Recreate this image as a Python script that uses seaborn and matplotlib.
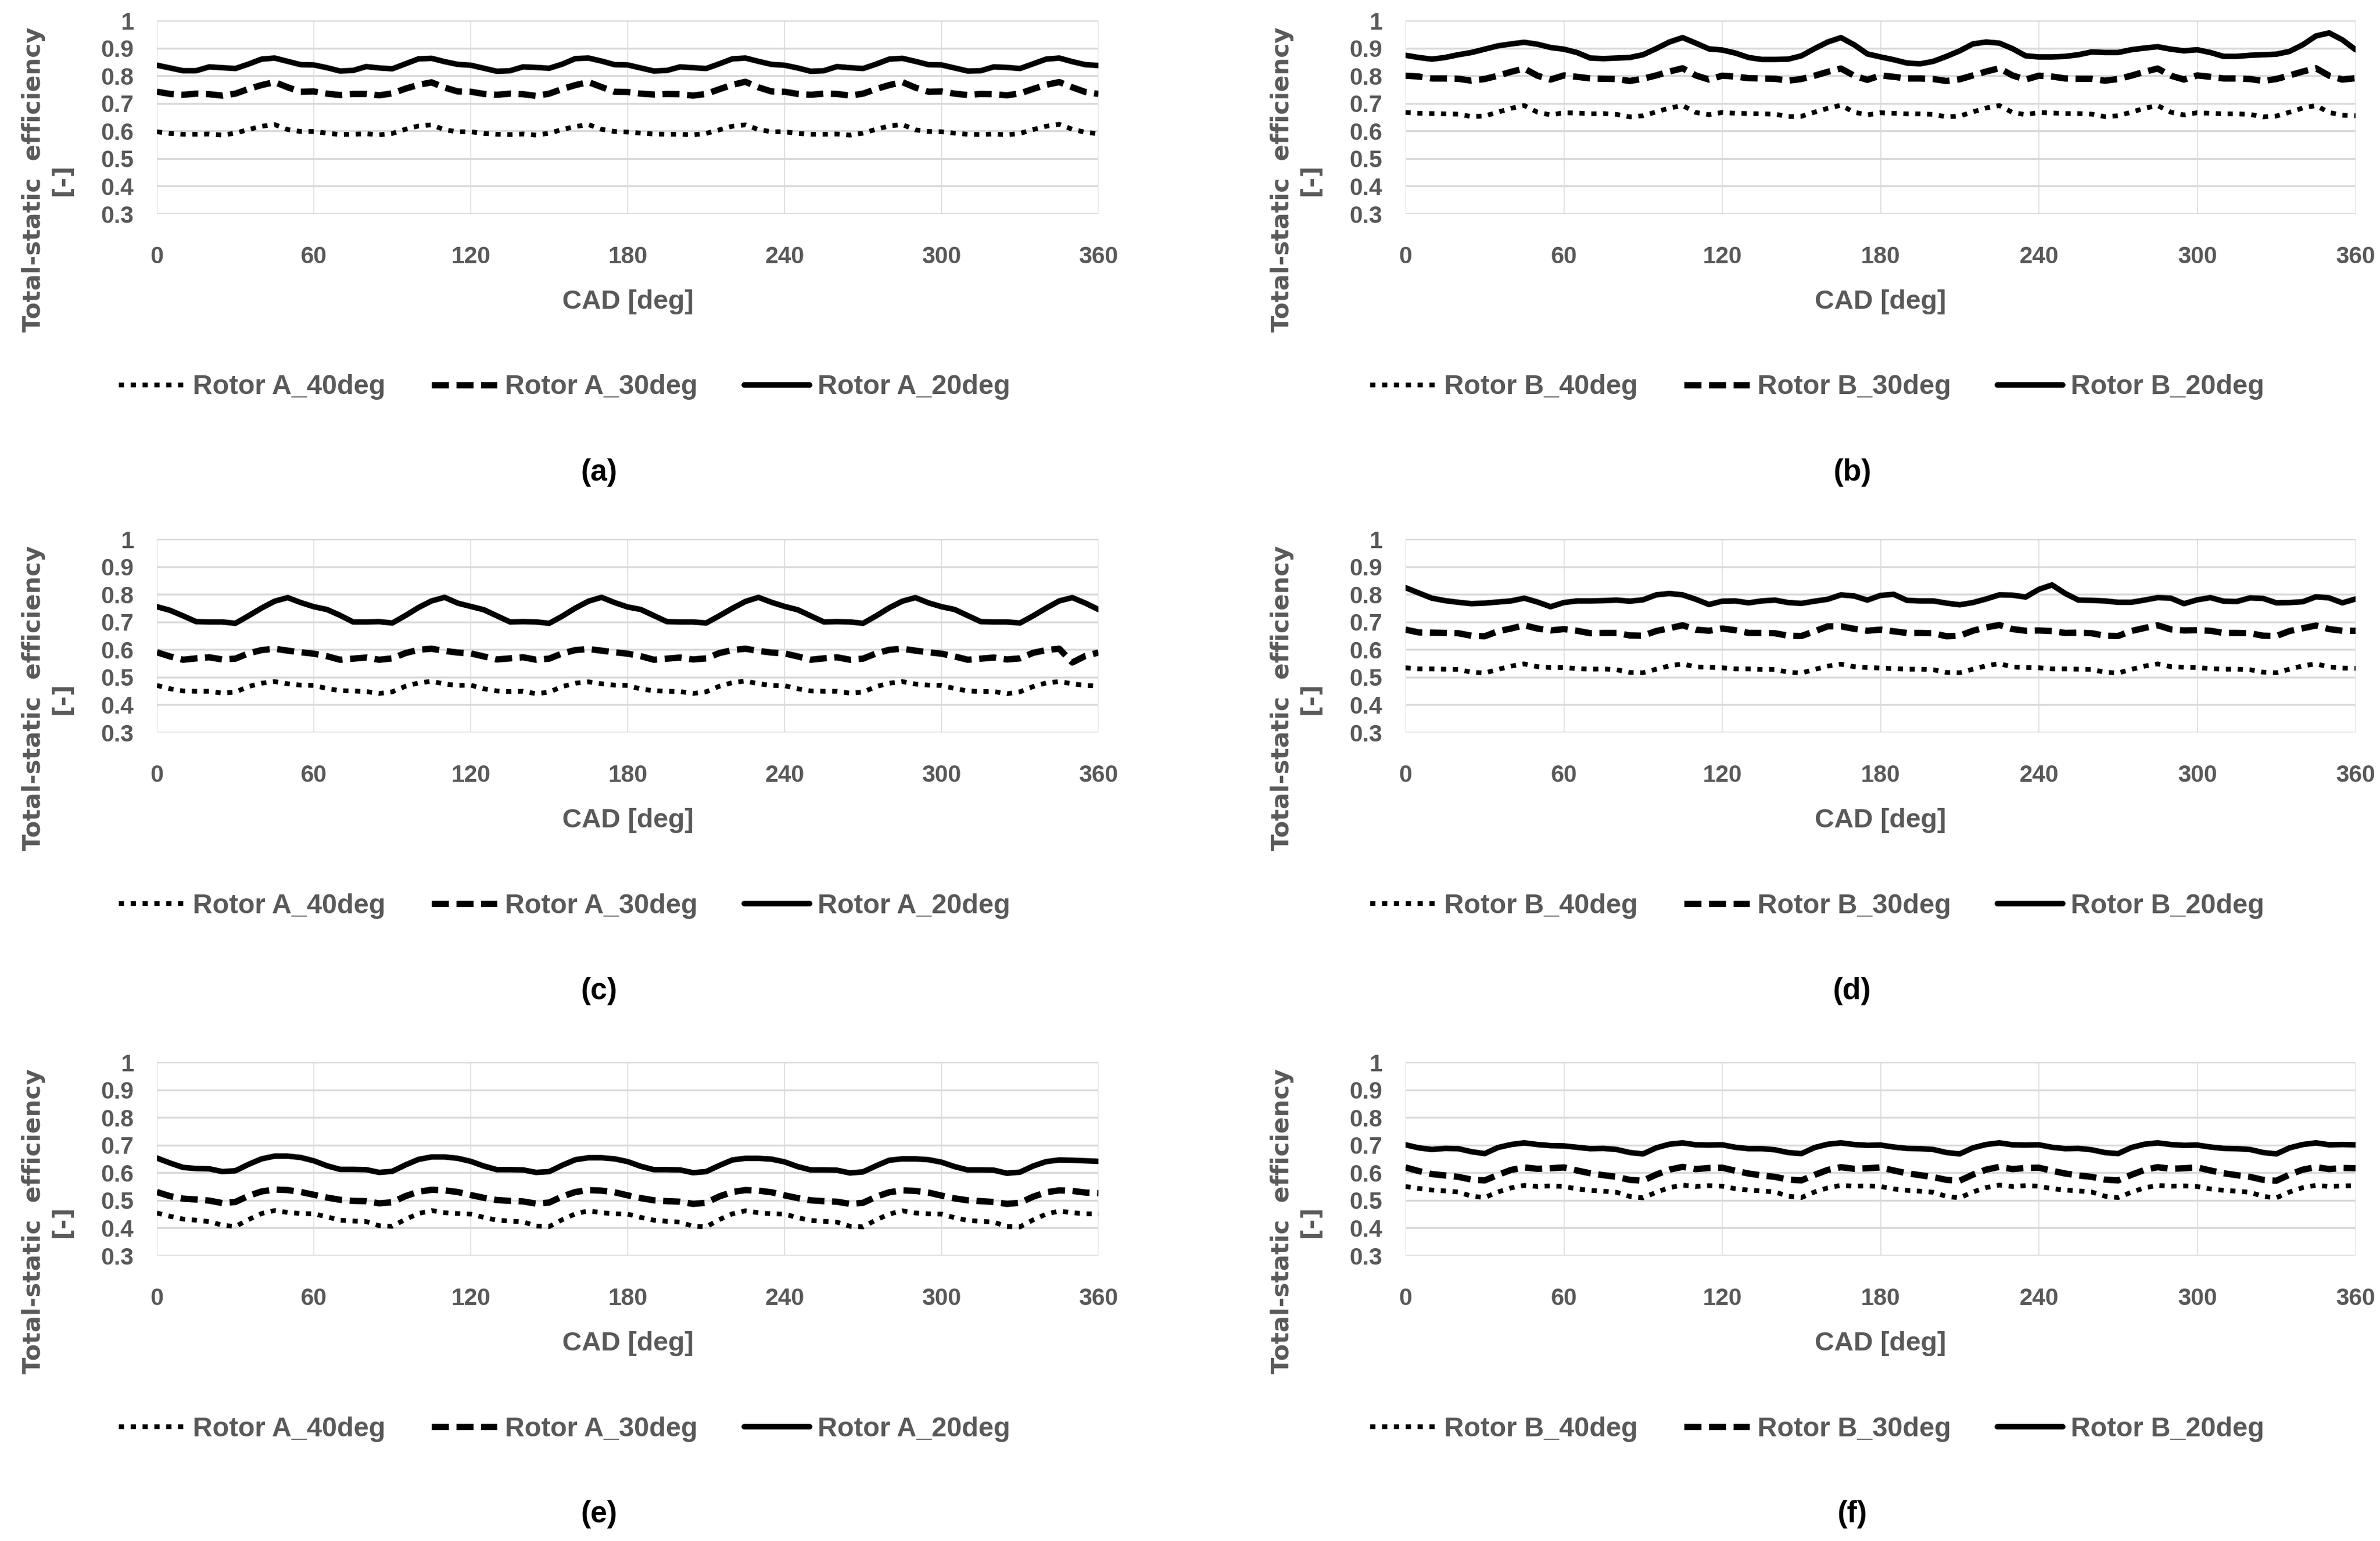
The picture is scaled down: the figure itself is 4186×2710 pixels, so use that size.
import pandas as pd
import seaborn as sns
import matplotlib.pyplot as plt

# -------------------------------
# Data (CAD every 5 deg)
# -------------------------------
cad = list(range(0, 361, 5))

# (a) Rotor A, first operating point
a_40 = [.597, .591, .588, .588, .589, .585, .592, .605, .617, .623, .605, .598,
        .598, .592, .587, .588, .590, .586, .591, .606, .618, .622, .604, .597,
        .597, .591, .588, .587, .589, .585, .592, .605, .616, .623, .606, .598,
        .596, .592, .589, .588, .588, .586, .591, .604, .617, .622, .605, .597,
        .597, .591, .588, .588, .589, .585, .592, .606, .618, .623, .604, .598,
        .597, .592, .588, .587, .589, .586, .591, .605, .617, .624, .606, .595,
        .590]
a_30 = [.742, .734, .731, .735, .733, .728, .735, .752, .766, .777, .758, .742,
        .743, .735, .730, .734, .734, .729, .736, .753, .767, .776, .757, .743,
        .742, .734, .731, .735, .733, .727, .735, .752, .766, .777, .759, .742,
        .741, .735, .732, .734, .733, .728, .734, .751, .767, .778, .758, .743,
        .742, .734, .731, .735, .734, .728, .735, .752, .766, .777, .757, .742,
        .743, .735, .730, .734, .733, .729, .736, .752, .767, .777, .758, .741,
        .734]
a_20 = [.838, .828, .818, .818, .832, .829, .826, .842, .860, .864, .852, .840,
        .839, .829, .817, .819, .833, .828, .825, .843, .861, .863, .851, .841,
        .838, .827, .816, .818, .832, .830, .827, .842, .862, .864, .853, .840,
        .839, .828, .817, .819, .832, .829, .826, .843, .861, .864, .852, .841,
        .838, .828, .816, .818, .833, .829, .826, .842, .860, .863, .852, .840,
        .839, .828, .817, .818, .832, .830, .826, .843, .860, .864, .851, .840,
        .837]

# (b) Rotor B, first operating point
b_40 = [.667, .664, .663, .662, .661, .652, .654, .668, .682, .692, .668, .658,
        .666, .665, .662, .663, .660, .651, .655, .669, .683, .692, .667, .659,
        .667, .664, .663, .662, .661, .652, .653, .668, .682, .693, .668, .658,
        .666, .664, .662, .662, .660, .651, .654, .669, .683, .692, .667, .659,
        .667, .665, .663, .663, .661, .652, .655, .668, .682, .692, .668, .658,
        .666, .664, .662, .662, .660, .651, .654, .668, .683, .692, .667, .657,
        .655]
b_30 = [.800, .797, .790, .790, .789, .782, .788, .800, .814, .826, .800, .786,
        .801, .796, .790, .789, .788, .781, .789, .801, .815, .827, .801, .786,
        .800, .797, .791, .790, .789, .782, .788, .800, .814, .826, .800, .785,
        .801, .796, .790, .790, .788, .781, .787, .801, .815, .827, .801, .786,
        .800, .797, .790, .789, .789, .782, .788, .800, .814, .826, .800, .786,
        .801, .796, .790, .790, .788, .781, .788, .801, .815, .827, .800, .786,
        .791]
b_20 = [.874, .866, .860, .866, .876, .884, .896, .908, .915, .921, .914, .902,
        .896, .884, .864, .862, .864, .866, .876, .898, .922, .938, .918, .897,
        .893, .882, .866, .859, .859, .860, .872, .898, .922, .938, .912, .879,
        .868, .858, .846, .843, .852, .870, .890, .915, .922, .918, .898, .872,
        .868, .868, .870, .876, .886, .884, .884, .894, .900, .905, .896, .890,
        .894, .884, .870, .870, .874, .876, .878, .888, .912, .944, .955, .930,
        .894]

# (c) Rotor A, second operating point
c_40 = [.470, .458, .450, .449, .449, .442, .446, .466, .478, .484, .476, .471,
        .470, .459, .451, .450, .448, .441, .447, .467, .479, .485, .475, .470,
        .471, .458, .450, .448, .449, .440, .446, .466, .478, .483, .476, .471,
        .470, .457, .451, .449, .448, .441, .447, .467, .480, .486, .476, .470,
        .469, .458, .450, .449, .449, .442, .446, .466, .478, .484, .475, .471,
        .470, .459, .450, .448, .448, .440, .447, .466, .479, .484, .476, .470,
        .468]
c_30 = [.590, .575, .563, .568, .572, .564, .567, .586, .598, .603, .596, .590,
        .585, .576, .563, .567, .571, .563, .568, .587, .599, .603, .595, .589,
        .586, .575, .564, .568, .572, .563, .567, .586, .598, .602, .596, .590,
        .585, .576, .563, .567, .571, .564, .568, .587, .598, .603, .595, .589,
        .586, .575, .563, .568, .572, .563, .567, .586, .599, .603, .596, .590,
        .585, .575, .563, .567, .571, .564, .568, .588, .598, .603, .553, .577,
        .589]
c_20 = [.755, .742, .722, .701, .700, .700, .695, .722, .750, .775, .788, .770,
        .755, .745, .724, .700, .700, .701, .696, .723, .752, .776, .789, .768,
        .756, .744, .722, .700, .701, .700, .695, .721, .750, .775, .789, .770,
        .754, .745, .723, .701, .700, .700, .696, .722, .749, .774, .789, .771,
        .756, .744, .722, .700, .701, .700, .695, .722, .751, .775, .788, .769,
        .755, .745, .723, .701, .700, .700, .696, .722, .750, .776, .788, .768,
        .745]

# (d) Rotor B, second operating point
d_40 = [.534, .530, .530, .529, .528, .518, .515, .528, .540, .548, .538, .535,
        .535, .531, .529, .530, .527, .517, .516, .529, .541, .548, .537, .536,
        .534, .530, .530, .528, .528, .518, .515, .528, .540, .547, .538, .535,
        .533, .531, .529, .529, .527, .517, .516, .529, .541, .549, .537, .535,
        .534, .530, .530, .529, .528, .518, .515, .528, .540, .548, .538, .536,
        .535, .531, .529, .529, .527, .518, .516, .529, .541, .548, .537, .533,
        .532]
d_30 = [.672, .662, .661, .660, .659, .650, .648, .666, .676, .688, .676, .669,
        .674, .668, .659, .660, .660, .651, .650, .667, .677, .688, .672, .668,
        .676, .670, .660, .660, .659, .650, .649, .666, .684, .684, .675, .668,
        .672, .666, .660, .660, .659, .648, .650, .668, .680, .689, .674, .668,
        .669, .667, .660, .661, .659, .650, .649, .667, .678, .688, .673, .669,
        .670, .668, .660, .660, .659, .650, .649, .667, .677, .687, .674, .668,
        .668]
d_20 = [.824, .805, .786, .777, .771, .766, .768, .772, .776, .786, .772, .755,
        .770, .776, .776, .777, .779, .775, .780, .798, .803, .798, .782, .763,
        .775, .776, .769, .776, .779, .770, .767, .775, .782, .798, .794, .779,
        .796, .800, .778, .776, .776, .768, .762, .770, .783, .798, .797, .790,
        .818, .834, .803, .779, .778, .776, .771, .771, .779, .788, .786, .766,
        .780, .788, .775, .774, .787, .785, .769, .770, .773, .791, .787, .769,
        .783]

# (e) Rotor A, third operating point
e_40 = [.454, .442, .432, .428, .423, .410, .405, .430, .452, .463, .456, .452,
        .451, .440, .428, .425, .423, .408, .406, .431, .452, .463, .455, .452,
        .450, .438, .428, .425, .422, .407, .405, .430, .451, .462, .455, .451,
        .450, .438, .428, .424, .421, .406, .404, .430, .451, .462, .455, .451,
        .450, .437, .427, .424, .421, .406, .404, .429, .450, .462, .454, .451,
        .450, .437, .427, .424, .421, .405, .404, .429, .450, .461, .455, .451,
        .451]
e_30 = [.530, .515, .506, .503, .499, .490, .494, .516, .532, .539, .537, .530,
        .520, .510, .502, .498, .497, .489, .493, .515, .531, .538, .536, .530,
        .519, .509, .501, .498, .496, .488, .492, .514, .530, .537, .535, .529,
        .518, .508, .500, .497, .495, .487, .491, .514, .530, .537, .535, .529,
        .518, .508, .500, .497, .495, .487, .491, .513, .529, .536, .534, .528,
        .517, .507, .500, .497, .494, .487, .491, .513, .529, .536, .534, .528,
        .526]
e_20 = [.653, .635, .619, .615, .614, .604, .607, .630, .650, .660, .660, .655,
        .643, .625, .612, .612, .611, .601, .605, .628, .648, .657, .657, .652,
        .641, .624, .611, .611, .610, .601, .604, .627, .647, .654, .654, .650,
        .640, .623, .611, .611, .610, .600, .604, .626, .646, .652, .652, .649,
        .639, .622, .610, .610, .609, .599, .603, .625, .645, .650, .650, .647,
        .638, .622, .610, .610, .609, .598, .602, .624, .640, .646, .645, .643,
        .641]

# (f) Rotor B, third operating point
f_40 = [.550, .543, .537, .534, .530, .515, .510, .530, .545, .554, .550, .552,
        .550, .541, .536, .533, .529, .514, .509, .529, .546, .555, .550, .553,
        .551, .542, .537, .534, .530, .515, .510, .530, .545, .554, .551, .552,
        .550, .541, .536, .533, .529, .514, .509, .530, .546, .555, .550, .553,
        .551, .542, .537, .534, .530, .515, .510, .529, .545, .554, .551, .552,
        .550, .541, .536, .533, .529, .514, .509, .530, .546, .554, .550, .552,
        .553]
f_30 = [.619, .606, .595, .590, .585, .575, .572, .592, .610, .619, .614, .616,
        .619, .608, .598, .591, .585, .574, .571, .593, .611, .621, .613, .617,
        .618, .607, .597, .590, .585, .575, .572, .592, .610, .620, .614, .616,
        .619, .608, .598, .591, .584, .574, .571, .593, .611, .621, .613, .617,
        .618, .607, .597, .590, .585, .575, .572, .592, .610, .620, .614, .616,
        .619, .608, .598, .591, .585, .574, .571, .593, .611, .620, .613, .617,
        .616]
f_20 = [.701, .690, .684, .688, .687, .676, .669, .691, .702, .708, .702, .698,
        .697, .692, .687, .688, .684, .673, .668, .690, .703, .708, .701, .700,
        .701, .692, .687, .687, .683, .673, .669, .691, .703, .708, .702, .699,
        .700, .693, .688, .687, .684, .673, .668, .690, .702, .708, .701, .700,
        .701, .692, .687, .688, .683, .673, .669, .691, .703, .708, .702, .699,
        .700, .693, .688, .687, .684, .673, .668, .690, .702, .708, .701, .702,
        .701]

x_ticks = [0, 60, 120, 180, 240, 300, 360]
y_ticks = [0.3, 0.4, 0.5, 0.6, 0.7, 0.8, 0.9, 1.0]
y_tick_labels = ["0.3", "0.4", "0.5", "0.6", "0.7", "0.8", "0.9", "1"]

# label, rotor, series (40, 30, 20 deg), row, col
panels = [
    ("(a)", "A", a_40, a_30, a_20, 0, 0),
    ("(b)", "B", b_40, b_30, b_20, 0, 1),
    ("(c)", "A", c_40, c_30, c_20, 1, 0),
    ("(d)", "B", d_40, d_30, d_20, 1, 1),
    ("(e)", "A", e_40, e_30, e_20, 2, 0),
    ("(f)", "B", f_40, f_30, f_20, 2, 1),
]

# -------------------------------
# Styling
# -------------------------------
sns.set_theme(style="white")
plt.rcParams["font.family"] = ["Liberation Sans", "DejaVu Sans"]
plt.rcParams["font.weight"] = "bold"

GRAY = "#595959"
GRID = "#d9d9d9"
W, H = 4186, 2710

fig = plt.figure(figsize=(W / 100, H / 100), dpi=100)

row_top = [36, 948, 1868]
col_left = [276, 2472]
col_width = [1656, 1671]
ax_h = 340

styles = [
    ("40deg", (0, (1.1, 1.4)), 6.0),
    ("30deg", (0, (2.7, 1.2)), 8.0),
    ("20deg", "-", 7.0),
]

for label, rotor, s40, s30, s20, r, c in panels:
    left, top, width = col_left[c], row_top[r], col_width[c]
    bottom = top + ax_h
    ax = fig.add_axes([left / W, 1 - bottom / H, width / W, ax_h / H])

    for (suffix, ls, lw), vals in zip(styles, [s40, s30, s20]):
        df = pd.DataFrame({"cad": cad, "eff": vals})
        sns.lineplot(data=df, x="cad", y="eff", ax=ax, color="black",
                     linestyle=ls, linewidth=lw, label=f"Rotor {rotor}_{suffix}")

    ax.set_xlim(0, 360)
    ax.set_ylim(0.3, 1.0)
    ax.set_xticks(x_ticks)
    ax.set_yticks(y_ticks)
    ax.set_yticklabels(y_tick_labels)
    ax.set_xlabel("")
    ax.set_ylabel("")
    for sp in ax.spines.values():
        sp.set_visible(False)
    ax.set_axisbelow(True)
    ax.grid(axis="y", color=GRID, linewidth=2.4)
    ax.grid(axis="x", color=GRID, linewidth=1.1)
    ax.tick_params(axis="x", length=0, labelsize=30, labelcolor=GRAY, pad=40)
    ax.tick_params(axis="y", length=0, labelsize=30, labelcolor=GRAY, pad=29)

    cx = left + width / 2
    # x axis title
    fig.text(cx / W, 1 - (bottom + 155) / H, "CAD [deg]", ha="center", va="center",
             fontsize=34, color=GRAY)
    # y axis title (two lines)
    fig.text((left - 192) / W, 1 - (top + ax_h / 2 + 110) / H,
             "Total-static  efficiency\n[-]", rotation=90, ha="center", va="center",
             fontsize=31, color=GRAY, family="DejaVu Sans", linespacing=1.25)

    ax.legend(loc="center", bbox_to_anchor=((cx - 111) / W, 1 - (bottom + 305) / H),
              bbox_transform=fig.transFigure, ncol=3, frameon=False,
              handlelength=2.4, columnspacing=1.7, handletextpad=0.3,
              prop={"size": 34.5, "weight": "bold"}, labelcolor=GRAY)

    fig.text((cx - 50) / W, 1 - (bottom + 455) / H, label, ha="center", va="center",
             fontsize=38, color="black")

plt.savefig("out.png", dpi=100)
